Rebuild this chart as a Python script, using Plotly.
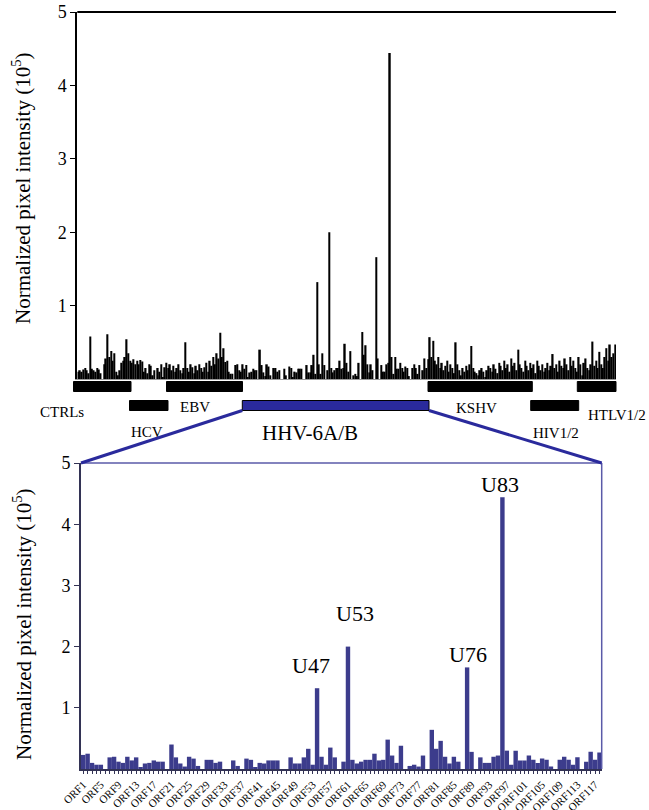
import plotly.graph_objects as go

W, H = 649, 810


def px(x):
    return x / W


def py(y):
    return 1 - y / H


# ---------------- data ----------------
# HHV-6A/B ORF array (bottom panel), values in 10^5 normalized pixel intensity
orf_values = [
    0.23, 0.25, 0.10, 0.07, 0.07, 0.00, 0.19, 0.20, 0.12, 0.10,
    0.20, 0.14, 0.19, 0.02, 0.09, 0.10, 0.14, 0.12, 0.12, 0.00,
    0.40, 0.19, 0.09, 0.04, 0.20, 0.17, 0.05, 0.00, 0.15, 0.15,
    0.10, 0.12, 0.00, 0.00, 0.14, 0.05, 0.00, 0.17, 0.15, 0.02,
    0.10, 0.09, 0.14, 0.14, 0.14, 0.00, 0.00, 0.19, 0.09, 0.09,
    0.19, 0.33, 0.07, 1.32, 0.20, 0.07, 0.35, 0.19, 0.00, 0.12,
    2.00, 0.15, 0.09, 0.12, 0.15, 0.15, 0.25, 0.14, 0.15, 0.48,
    0.22, 0.10, 0.38, 0.00, 0.05, 0.07, 0.04, 0.22, 0.00, 0.64,
    0.33, 0.46, 0.20, 0.09, 0.20, 0.12, 0.00, 1.66, 0.28, 0.00,
    0.19, 0.10, 0.10, 0.20, 0.22, 4.44, 0.30, 0.07, 0.30, 0.14,
    0.14, 0.22, 0.15, 0.10, 0.17, 0.15, 0.04, 0.00, 0.15, 0.20,
    0.15, 0.07, 0.19, 0.00, 0.12, 0.28, 0.15, 0.27,
]
orf_tick_labels = [
    "ORF1", "ORF5", "ORF9", "ORF13", "ORF17", "ORF21", "ORF25", "ORF29",
    "ORF33", "ORF37", "ORF41", "ORF45", "ORF49", "ORF53", "ORF57", "ORF61",
    "ORF65", "ORF69", "ORF73", "ORF77", "ORF81", "ORF85", "ORF89", "ORF93",
    "ORF97", "ORF101", "ORF105", "ORF109", "ORF113", "ORF117",
]
peak_names = ["U47", "U53", "U76", "U83"]
peak_orf_index = [53, 60, 87, 95]

# Full array (top panel): CTRLs / HCV / EBV, then HHV-6A/B, then KSHV / HIV / HTLV
pre_values = [
    0.10, 0.12, 0.10, 0.13, 0.15, 0.12, 0.08, 0.58, 0.14, 0.12,
    0.10, 0.15, 0.13, 0.08, 0.00, 0.20, 0.28, 0.61, 0.30, 0.38,
    0.25, 0.35, 0.10, 0.05, 0.12, 0.22, 0.25, 0.30, 0.54, 0.35,
    0.25, 0.22, 0.27, 0.20, 0.25, 0.20, 0.26, 0.24, 0.10, 0.15,
    0.08, 0.20, 0.18, 0.05, 0.12, 0.00, 0.15, 0.10, 0.20, 0.02,
    0.16, 0.22, 0.15, 0.20, 0.12, 0.18, 0.10, 0.15, 0.20, 0.12,
    0.08, 0.15, 0.50, 0.15, 0.10, 0.20, 0.16, 0.08, 0.18, 0.12,
    0.20, 0.15, 0.10, 0.16, 0.22, 0.10, 0.25, 0.18, 0.30, 0.20,
    0.35, 0.28, 0.63, 0.30, 0.42,
]
post_values = [
    0.57, 0.30, 0.52, 0.25, 0.20, 0.30, 0.15, 0.22, 0.12, 0.18,
    0.25, 0.10, 0.20, 0.15, 0.08, 0.50, 0.20, 0.12, 0.05, 0.15,
    0.10, 0.18, 0.12, 0.20, 0.45, 0.15, 0.10, 0.08, 0.05, 0.12,
    0.15, 0.10, 0.02, 0.12, 0.18, 0.15, 0.10, 0.20, 0.14, 0.08,
    0.22, 0.18, 0.12, 0.25, 0.15, 0.20, 0.10, 0.28, 0.18, 0.22,
    0.12, 0.40, 0.20, 0.15, 0.10, 0.25, 0.18, 0.12, 0.22, 0.15,
    0.20, 0.08, 0.25, 0.18, 0.12, 0.20, 0.10, 0.15, 0.22, 0.12,
    0.18, 0.34, 0.15, 0.20, 0.10, 0.25, 0.18, 0.15, 0.28, 0.20,
    0.12, 0.30, 0.18, 0.25, 0.15, 0.10, 0.30, 0.20, 0.05, 0.22,
    0.28, 0.15, 0.12, 0.20, 0.51, 0.18, 0.25, 0.15, 0.37, 0.20,
    0.15, 0.30, 0.42, 0.25, 0.47, 0.30, 0.35, 0.47,
]
screen_values = pre_values + orf_values + post_values

segment_names = ["CTRLs", "HCV", "EBV", "HHV-6A/B", "KSHV", "HIV1/2", "HTLV1/2"]

# ---------------- figure ----------------
SERIF = "Liberation Serif, Times New Roman, serif"
NAVY = "#3c3c8c"
BLUE = "#2a2a9c"

fig = go.Figure()

fig.add_trace(go.Bar(
    x=list(range(len(screen_values))), y=screen_values,
    marker=dict(color="black", line=dict(width=0)),
    xaxis="x", yaxis="y", showlegend=False, width=0.88,
))
fig.add_trace(go.Bar(
    x=list(range(len(orf_values))), y=orf_values,
    marker=dict(color=NAVY, line=dict(width=0)),
    xaxis="x2", yaxis="y2", showlegend=False, width=1.0,
))

# panel geometry (page pixels)
T_L, T_R, T_T, T_B = 77.3, 616.0, 12.0, 379.0
B_L, B_R, B_T, B_B = 81.0, 601.7, 463.0, 769.0

tick_vals_bottom = list(range(len(orf_values)))
tick_text_bottom = [orf_tick_labels[i // 4] if i % 4 == 0 else "" for i in tick_vals_bottom]

fig.update_layout(
    width=W, height=H,
    margin=dict(l=0, r=0, t=0, b=0, autoexpand=False),
    paper_bgcolor="white", plot_bgcolor="white",
    font=dict(family=SERIF, color="black"),
    xaxis=dict(
        domain=[px(T_L), px(T_R)], anchor="y",
        range=[-0.5, len(screen_values) - 0.5],
        showticklabels=False, ticks="", showgrid=False, zeroline=False,
        showline=True, linecolor="#9a9a9a", linewidth=1, automargin=False,
    ),
    yaxis=dict(
        domain=[py(T_B), py(T_T)], anchor="x",
        range=[0, 5], tickvals=[1, 2, 3, 4, 5],
        ticks="outside", ticklen=5, tickcolor="black", tickwidth=1,
        showline=True, linecolor="black", linewidth=2,
        showgrid=False, zeroline=False, automargin=False,
        ticklabeloverflow="allow",
        tickfont=dict(family=SERIF, size=18, color="black"),
    ),
    xaxis2=dict(
        domain=[px(B_L), px(B_R)], anchor="y2",
        range=[-0.5, len(orf_values) - 0.5],
        tickvals=tick_vals_bottom, ticktext=tick_text_bottom,
        tickangle=-45, ticks="outside", ticklen=3, tickcolor="#333355", tickwidth=1,
        tickfont=dict(family=SERIF, size=11, color="black"),
        showline=True, linecolor="#333355", linewidth=2,
        showgrid=False, zeroline=False, automargin=False,
        ticklabeloverflow="allow",
    ),
    yaxis2=dict(
        domain=[py(B_B), py(B_T)], anchor="x2",
        range=[0, 5], tickvals=[1, 2, 3, 4, 5],
        ticks="outside", ticklen=5, tickcolor="#333355", tickwidth=1,
        showline=True, linecolor="#333355", linewidth=2,
        showgrid=False, zeroline=False, automargin=False,
        ticklabeloverflow="allow",
        tickfont=dict(family=SERIF, size=18, color="black"),
    ),
)

shapes = []
# top panel top border
shapes.append(dict(type="line", xref="paper", yref="paper",
                   x0=px(T_L), x1=px(T_R), y0=py(T_T), y1=py(T_T),
                   line=dict(color="black", width=2)))
# bottom panel top/right border
shapes.append(dict(type="line", xref="paper", yref="paper",
                   x0=px(B_L), x1=px(B_R), y0=py(B_T), y1=py(B_T),
                   line=dict(color="#5a5aa8", width=1.5)))
shapes.append(dict(type="line", xref="paper", yref="paper",
                   x0=px(B_R), x1=px(B_R), y0=py(B_T), y1=py(B_B),
                   line=dict(color="#5a5aa8", width=1.5)))

# segment bars: (x0, x1, row) in pixels
seg_geom = [
    (73.5, 131.0, 0), (129.5, 168.0, 1), (166.5, 242.5, 0), (242.3, 429.0, 1),
    (428.0, 532.3, 0), (530.7, 578.7, 1), (577.3, 616.0, 0),
]
row_y = [(381.5, 391.5), (400.5, 410.5)]
for name, (x0, x1, r) in zip(segment_names, seg_geom):
    y0, y1 = row_y[r]
    is_hhv = name == "HHV-6A/B"
    shapes.append(dict(type="rect", xref="paper", yref="paper",
                       x0=px(x0), x1=px(x1), y0=py(y1), y1=py(y0),
                       fillcolor=BLUE if is_hhv else "black",
                       line=dict(color="black", width=1)))

# zoom connector lines
shapes.append(dict(type="line", xref="paper", yref="paper",
                   x0=px(242.3), y0=py(410.5), x1=px(B_L), y1=py(B_T),
                   line=dict(color=BLUE, width=3)))
shapes.append(dict(type="line", xref="paper", yref="paper",
                   x0=px(429.0), y0=py(410.5), x1=px(B_R), y1=py(B_T),
                   line=dict(color=BLUE, width=3)))

fig.update_layout(shapes=shapes)

annotations = []
# segment labels (x, y centre, size, anchor)
seg_label_pos = [
    (62, 412, 15, "center"), (147, 432, 15, "center"), (195, 407, 15, "center"),
    (310, 433, 21, "center"), (476, 408, 15, "center"), (556, 433, 15, "center"),
    (648, 415, 15, "right"),
]
for name, (x, y, s, anc) in zip(segment_names, seg_label_pos):
    annotations.append(dict(text=name, xref="paper", yref="paper",
                            x=px(x), y=py(y), xanchor=anc, yanchor="middle",
                            showarrow=False, font=dict(family=SERIF, size=s, color="black")))

# y titles
for yc in (188, 624):
    annotations.append(dict(text="Normalized pixel intensity (10<sup>5</sup>)",
                            xref="paper", yref="paper", x=px(22), y=py(yc),
                            xanchor="center", yanchor="middle", textangle=-90,
                            showarrow=False, font=dict(family=SERIF, size=21, color="black")))

# peak labels
peak_dx = [-6, 7, 1, -2]
peak_dy = [8, 19, -2, -2]
for name, idx, dx, dy in zip(peak_names, peak_orf_index, peak_dx, peak_dy):
    annotations.append(dict(text=name, xref="x2", yref="y2",
                            x=idx, y=orf_values[idx], xanchor="center", yanchor="bottom",
                            xshift=dx, yshift=dy, showarrow=False,
                            font=dict(family=SERIF, size=22, color="black")))

fig.update_layout(annotations=annotations)

# remove the default page margin so the 649x810 figure fills the window exactly
fig.write_html("out.html", config={"displayModeBar": False},
               post_script="document.body.style.margin='0';")
